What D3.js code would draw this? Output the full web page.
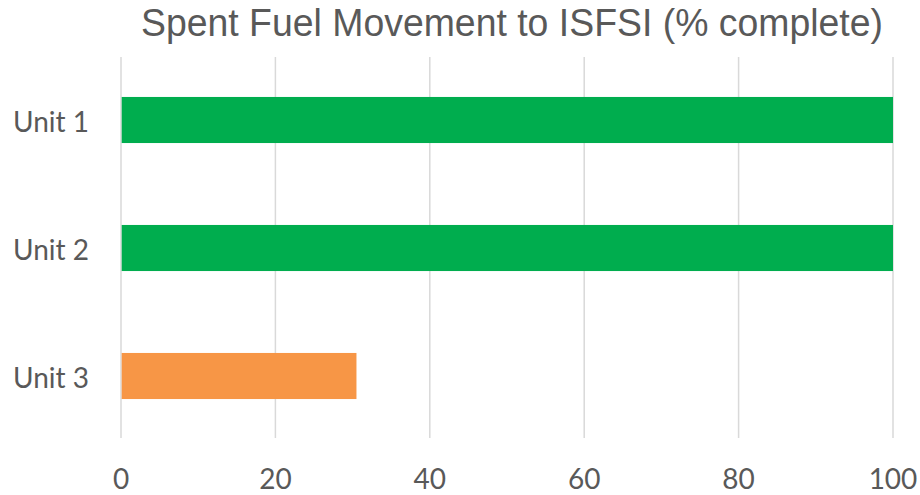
<!DOCTYPE html>
<html>
<head>
<meta charset="utf-8">
<script src="https://cdn.jsdelivr.net/npm/d3@7"></script>
<style>
  body { margin: 0; background: #fff; }
</style>
</head>
<body>
<div id="chart"></div>
<script>
const units = ['Unit 1', 'Unit 2', 'Unit 3'];
const percentComplete = [100, 100, 30.5];
const barColors = ['#00ad4e', '#00ad4e', '#f79646'];
const ticks = [0, 20, 40, 60, 80, 100];

const width = 920, height = 495;
const svg = d3.select('#chart').append('svg').attr('width', width).attr('height', height);

const x = d3.scaleLinear().domain([0, 100]).range([121, 893]);
const y = d3.scaleBand().domain(units).range([56, 440]).paddingInner(0.64).paddingOuter(0.32);

// gridlines
svg.append('g').selectAll('line').data(ticks).enter().append('line')
  .attr('x1', d => x(d)).attr('x2', d => x(d))
  .attr('y1', 57).attr('y2', 438)
  .attr('stroke', '#d9d9d9').attr('stroke-width', 1.5);

// bars
svg.append('g').selectAll('rect').data(units).enter().append('rect')
  .attr('x', x(0) + 0.7)
  .attr('y', d => y(d))
  .attr('height', y.bandwidth())
  .attr('width', (d, i) => x(percentComplete[i]) - x(0) - 0.7)
  .attr('fill', (d, i) => barColors[i]);

// tick labels
svg.append('g').selectAll('text').data(ticks).enter().append('text')
  .attr('x', d => x(d)).attr('y', 489)
  .attr('text-anchor', 'middle')
  .attr('fill', '#595959')
  .attr('font-family', 'Lato, "Open Sans", sans-serif')
  .attr('font-size', '28px')
  .text(d => d);

// category labels
svg.append('g').selectAll('text').data(units).enter().append('text')
  .attr('x', 13).attr('y', d => y(d) + y.bandwidth() / 2 + 12)
  .attr('fill', '#595959')
  .attr('font-family', 'Lato, "Open Sans", sans-serif')
  .attr('font-size', '28px')
  .text(d => d);

// title
svg.append('text')
  .attr('x', 512).attr('y', 36)
  .attr('text-anchor', 'middle')
  .attr('fill', '#595959')
  .attr('font-family', '"Liberation Sans", Arial, sans-serif')
  .attr('font-size', '39px')
  .attr('textLength', 742)
  .attr('lengthAdjust', 'spacingAndGlyphs')
  .text('Spent Fuel Movement to ISFSI (% complete)');
</script>
</body>
</html>
